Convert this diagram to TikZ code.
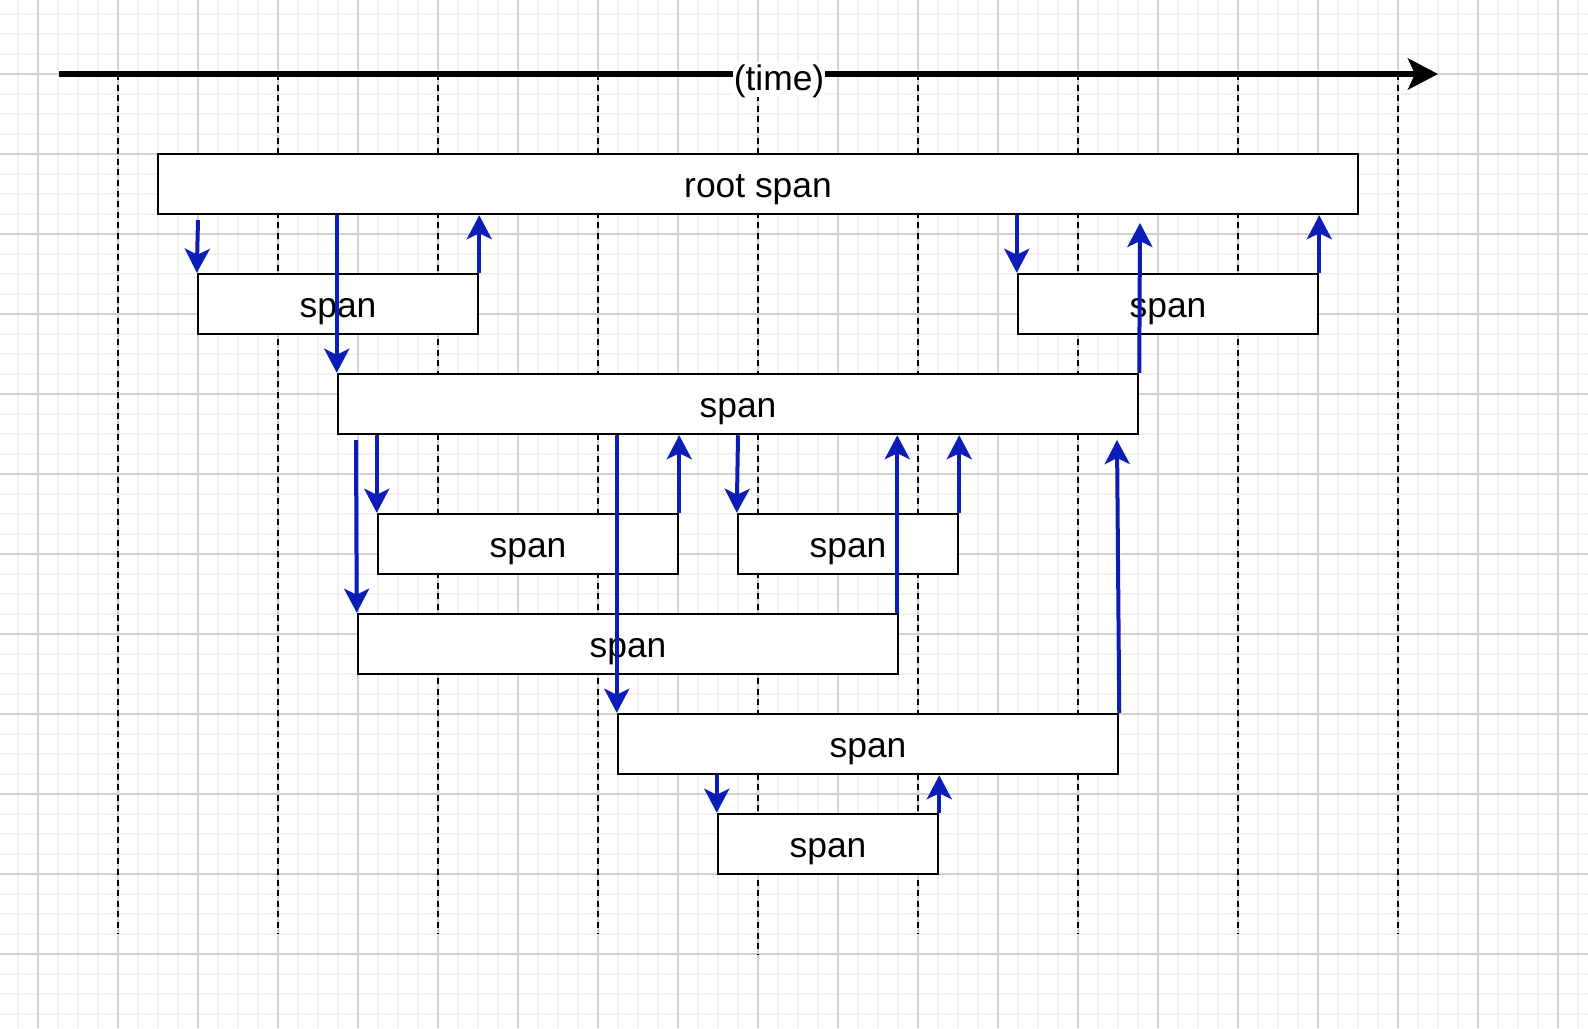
\documentclass[tikz,border=0pt]{standalone}
\usepackage{fontspec}
\setmainfont{Liberation Sans}
\usetikzlibrary{arrows.meta,calc}
\definecolor{spanblue}{HTML}{0B1DB8}
\definecolor{gridmajor}{HTML}{D2D2D2}
\definecolor{gridminor}{HTML}{F1F1F1}
\begin{document}
\begin{tikzpicture}[x=0.5pt,y=-0.5pt,
  spanbox/.style={draw=black, line width=1.25pt, fill=white, minimum height=30pt, inner sep=0pt, text height=13pt, text depth=0pt, font=\fontsize{17.7pt}{21pt}\selectfont},
  call/.style={draw=spanblue, line width=2pt, -{Stealth[length=12pt,width=12.5pt,inset=3pt]}},
  tickline/.style={draw=black, line width=1.2pt, dash pattern=on 3pt off 2.3pt},
  timeaxis/.style={draw=black, line width=3pt, -{Stealth[length=15pt,width=15.5pt,inset=3.5pt]}},
  timelabelstyle/.style={fill=white, inner sep=0pt, minimum width=46pt, minimum height=17.5pt, text height=10.5pt, text depth=0pt, font=\fontsize{17.7pt}{21pt}\selectfont},
]
\useasboundingbox (0,0) rectangle (1588,1028);
\fill[white] (0,0) rectangle (1588,1028);
% grid
\foreach \i in {0,...,78} \draw[gridminor, line width=1pt] (18+20*\i,0) -- (18+20*\i,1028);
\foreach \i in {0,...,50} \draw[gridminor, line width=1pt] (0,14+20*\i) -- (1588,14+20*\i);
\foreach \i in {0,...,19} \draw[gridmajor, line width=1pt] (38+80*\i,0) -- (38+80*\i,1028);
\foreach \i in {0,...,11} \draw[gridmajor, line width=1pt] (0,74+80*\i) -- (1588,74+80*\i);
% time ticks
\foreach \i in {0,...,8} \draw[tickline] (118+160*\i,74) -- (118+160*\i,934);
\draw[tickline] (758,74) -- (758,954);
% time axis
\coordinate (tstart) at (59,74);
\coordinate (tend) at (1438,74);
\draw[timeaxis] (tstart) -- (tend);
\node[timelabelstyle] (timelabel) at (779,79.5) {(time)};
% spans
\node[spanbox, minimum width=600pt] (root) at (758,184) {root span};
\node[spanbox, minimum width=140pt] (r1a) at (338,304) {span};
\node[spanbox, minimum width=150pt] (r1b) at (1168,304) {span};
\node[spanbox, minimum width=400pt] (r2) at (738,404) {span};
\node[spanbox, minimum width=150pt] (r3a) at (528,544) {span};
\node[spanbox, minimum width=110pt] (r3b) at (848,544) {span};
\node[spanbox, minimum width=270pt] (r4) at (628,644) {span};
\node[spanbox, minimum width=250pt] (r5) at (868,744) {span};
\node[spanbox, minimum width=110pt] (r6) at (828,844) {span};
% calls and returns
\coordinate (a1) at (198,220);
\draw[call] (a1) -- (r1a.north west);
\draw[call] (r2.north west |- root.south) -- (r2.north west);
\draw[call] (r1a.north east) -- (r1a.north east |- root.south);
\draw[call] (r1b.north west |- root.south) -- (r1b.north west);
\coordinate (a5) at (1140,223);
\draw[call] (r2.north east) -- (a5);
\draw[call] (r1b.north east) -- (r1b.north east |- root.south);
\coordinate (a7) at (356,440);
\draw[call] (a7) -- (r4.north west);
\draw[call] (r3a.north west |- r2.south) -- (r3a.north west);
\draw[call] (r5.north west |- r2.south) -- (r5.north west);
\draw[call] (r3a.north east) -- (r3a.north east |- r2.south);
\draw[call] (r2.south) -- (r3b.north west);
\coordinate (a12) at ($(r4.north east)+(-2,0)$);
\draw[call] (a12) -- (a12 |- r2.south);
\draw[call] (r3b.north east) -- (r3b.north east |- r2.south);
\coordinate (a14) at (1117,440);
\draw[call] (r5.north east) -- (a14);
\draw[call] (r6.north west |- r5.south) -- (r6.north west);
\draw[call] (r6.north east) -- (r6.north east |- r5.south);
\end{tikzpicture}
\end{document}
